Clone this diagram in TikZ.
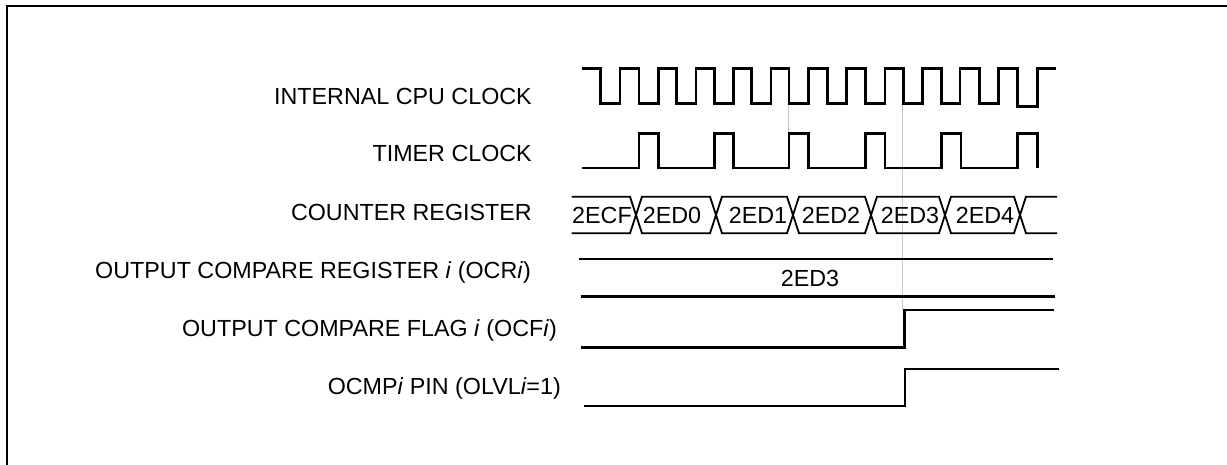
\documentclass[tikz,border=0pt]{standalone}
\usepackage{fontspec}
\setmainfont{Liberation Sans}
\begin{document}
\begin{tikzpicture}[x=1pt,y=-1pt,
  wave/.style={line width=2.6pt,line cap=butt,line join=miter},
  frameline/.style={line width=2.2pt},
  guide/.style={line width=1pt,draw={rgb,255:red,200;green,200;blue,200}},
  lbl/.style={inner sep=0pt,anchor=base east,font=\fontsize{23.3}{28}\selectfont},
  val/.style={inner sep=0pt,anchor=base,font=\fontsize{23.3}{28}\selectfont}]
\useasboundingbox (0,0) rectangle (1227,464);
\fill[white] (0,0) rectangle (1227,464);
% frame
\draw[frameline] (7,470) -- (7,6) -- (1232,6);
% guide lines
\draw[guide] (788.3,66.7) -- (788.3,170);
\draw[guide] (902.7,101.7) -- (902.7,310);
% labels
\node[lbl] (l1) at (532,104) {INTERNAL CPU CLOCK};
\node[lbl] (l2) at (532,161.7) {TIMER CLOCK};
\node[lbl] (l3) at (532,220) {COUNTER REGISTER};
\node[lbl] (l4) at (531,278) {OUTPUT COMPARE REGISTER \textit{i} (OCR\textit{i})};
\node[lbl] (l5) at (557,336) {OUTPUT COMPARE FLAG \textit{i} (OCF\textit{i})};
\node[lbl] (l6) at (561,394) {OCMP\textit{i} PIN (OLVL\textit{i}=1)};
% CPU clock
\def\H{68.3}\def\L{103.3}
\draw[wave] (581.7,\H)
  -- (600.7,\H) -- (600.7,\L) -- (620,\L) -- (620,\H)
  -- (639,\H) -- (639,\L) -- (658.3,\L) -- (658.3,\H)
  -- (676.7,\H) -- (676.7,\L) -- (696,\L) -- (696,\H)
  -- (714.3,\H) -- (714.3,\L) -- (733.3,\L) -- (733.3,\H)
  -- (751.7,\H) -- (751.7,\L) -- (771,\L) -- (771,\H)
  -- (789,\H) -- (789,\L) -- (808.3,\L) -- (808.3,\H)
  -- (827.3,\H) -- (827.3,\L) -- (846.7,\L) -- (846.7,\H)
  -- (865.7,\H) -- (865.7,\L) -- (885,\L) -- (885,\H)
  -- (903.3,\H) -- (903.3,\L) -- (922.3,\L) -- (922.3,\H)
  -- (941.7,\H) -- (941.7,\L) -- (960,\L) -- (960,\H)
  -- (979.3,\H) -- (979.3,\L) -- (998.3,\L) -- (998.3,\H)
  -- (1017.7,\H) -- (1017.7,106.5) -- (1037.3,106.5) -- (1037.3,\H)
  -- (1056,\H);
% timer clock
\def\TH{133.3}\def\TL{168}
\draw[wave] (582,\TL)
  -- (639,\TL) -- (639,\TH) -- (658.3,\TH) -- (658.3,\TL)
  -- (714.3,\TL) -- (714.3,\TH) -- (733.3,\TH) -- (733.3,\TL)
  -- (789,\TL) -- (789,\TH) -- (808.3,\TH) -- (808.3,\TL)
  -- (865.7,\TL) -- (865.7,\TH) -- (885,\TH) -- (885,\TL)
  -- (941.7,\TL) -- (941.7,\TH) -- (961,\TH) -- (961,\TL)
  -- (1017.7,\TL) -- (1017.7,\TH) -- (1037.3,\TH) -- (1037.3,\TL);
% counter register
\def\CT{196.7}\def\CB{233.3}
\draw[line width=1.8pt] (571.7,\CT) -- (630,\CT) -- (642,\CB) -- (710,\CB) -- (722,\CT) -- (787,\CT) -- (799,\CB) -- (865,\CB) -- (877,\CT) -- (939,\CT) -- (951,\CB) -- (1014,\CB) -- (1026,\CT) -- (1057,\CT);
\draw[line width=1.8pt] (571.7,\CB) -- (630,\CB) -- (642,\CT) -- (710,\CT) -- (722,\CB) -- (787,\CB) -- (799,\CT) -- (865,\CT) -- (877,\CB) -- (939,\CB) -- (951,\CT) -- (1014,\CT) -- (1026,\CB) -- (1057,\CB);
\node[val] (c1) at (602,223) {2ECF};
\node[val] (c2) at (672,223) {2ED0};
\node[val] (c3) at (758,223) {2ED1};
\node[val] (c4) at (831,223) {2ED2};
\node[val] (c5) at (910,223) {2ED3};
\node[val] (c6) at (985,223) {2ED4};
% OCR
\draw[wave] (579,259) -- (1053.3,259);
\draw[wave] (580.7,296.7) -- (1055,296.7);
\node[val] (ocr) at (810,286) {2ED3};
% OCF
\draw[wave] (581,347.7) -- (904.3,347.7) -- (904.3,310) -- (1054.3,310);
% OCMP
\draw[wave] (584,406) -- (905,406) -- (905,369) -- (1059,369);
\end{tikzpicture}
\end{document}
